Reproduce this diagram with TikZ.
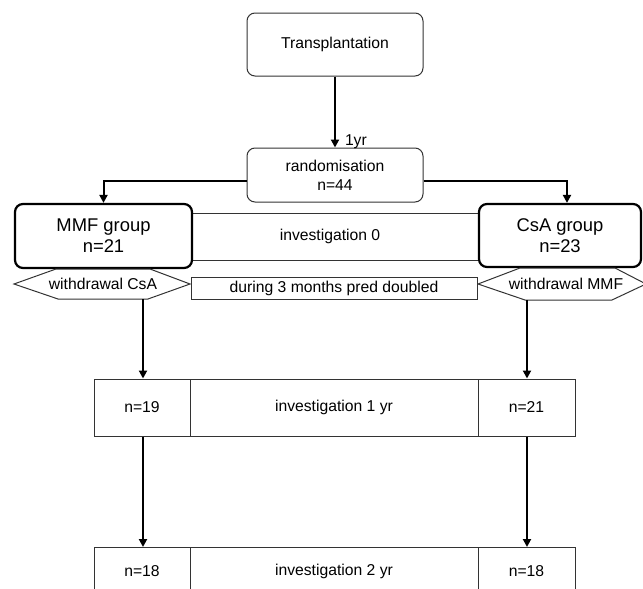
\documentclass[tikz,border=0pt]{standalone}
\usepackage{fontspec}
\setmainfont{Liberation Sans}
\usetikzlibrary{arrows.meta}
\begin{document}
\begin{tikzpicture}[x=1pt,y=-1pt,
  every node/.style={font=\fontsize{15.7}{19}\selectfont, inner sep=0pt, align=center},
  rbox/.style={draw=black!80, line width=1pt, rounded corners=8pt, fill=white},
  gbox/.style={draw=black, line width=2.2pt, rounded corners=8pt, fill=white, font=\fontsize{18.4}{21}\selectfont},
  cell/.style={draw=black!80, line width=1pt, fill=white},
  hexa/.style={draw=black!80, line width=1pt, fill=white},
  arr/.style={line width=2pt, -{Triangle[length=8pt,width=8pt]}}]
\useasboundingbox (0,0) rectangle (643,589);
\clip (0,0) rectangle (643,589);
% top boxes
\node[rbox, minimum width=176pt, minimum height=63pt] (tx) at (335,44.5) {Transplantation};
\node[rbox, minimum width=176pt, minimum height=54pt] (rand) at (335,175) {randomisation\\n=44};
% investigation 0 band
\node[cell, minimum width=400pt, minimum height=47pt] (inv0) at (330,236.5) {investigation 0};
% group boxes
\node[gbox, minimum width=177pt, minimum height=64pt] (mmf) at (103.5,236) {MMF group\\n=21};
\node[gbox, minimum width=162pt, minimum height=63pt] (csa) at (560,235.5) {CsA group\\n=23};
% hexagons
\draw[hexa] (14,284) -- (56,269) -- (150,269) -- (190,284) -- (148,299) -- (58,299) -- cycle;
\node (wcsa) at (103,284) {withdrawal CsA};
\draw[hexa] (478,284) -- (520,268) -- (615,268) -- (646,284) -- (612,300) -- (525,300) -- cycle;
\node (wmmf) at (566,284) {withdrawal MMF};
\node[cell, minimum width=286pt, minimum height=22pt] (pred) at (334,288) {during 3 months pred doubled};
\coordinate (hcb) at (143,299);
\coordinate (hmb) at (527,300);
% row 1
\node[cell, minimum width=96pt, minimum height=57pt] (n19) at (142,407.5) {n=19};
\node[cell, minimum width=288pt, minimum height=57pt] (inv1) at (334,407.5) {investigation 1 yr};
\node[cell, minimum width=97pt, minimum height=57pt] (n21) at (526.5,407.5) {n=21};
% row 2
\node[cell, anchor=north, minimum width=96pt, minimum height=70pt] (c18a) at (142,547) {};
\node[cell, anchor=north, minimum width=288pt, minimum height=70pt] (c2) at (334,547) {};
\node[cell, anchor=north, minimum width=97pt, minimum height=70pt] (c18b) at (526.5,547) {};
\node (n18a) at (142,571) {n=18};
\node (inv2) at (334,571) {investigation 2 yr};
\node (n18b) at (526.5,571) {n=18};
% connectors
\draw[arr] (tx.south) -- node[pos=0.92, right=9pt] {1yr} (rand.north);
\draw[arr] ([yshift=-6pt]rand.west) -| (mmf.north);
\draw[arr] ([yshift=-6pt]rand.east) -| ([xshift=7pt]csa.north);
\draw[arr] (hcb) -- (hcb |- n19.north);
\draw[arr] (hmb) -- (hmb |- n21.north);
\draw[arr] (hcb |- n19.south) -- (hcb |- c18a.north);
\draw[arr] (hmb |- n21.south) -- (hmb |- c18b.north);
\end{tikzpicture}
\end{document}
